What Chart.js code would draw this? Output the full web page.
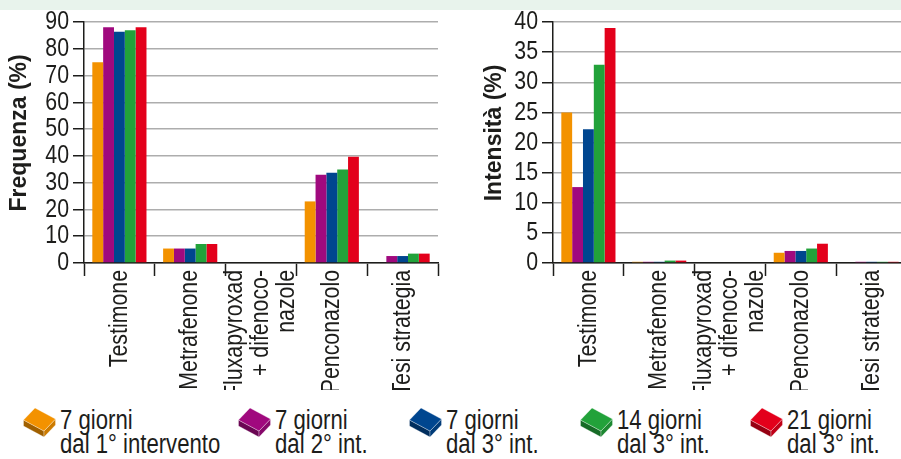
<!DOCTYPE html>
<html>
<head>
<meta charset="utf-8">
<script src="https://cdn.jsdelivr.net/npm/chart.js@4/dist/chart.umd.min.js"></script>
<style>
  html, body { margin: 0; padding: 0; background: #fff; width: 901px; height: 459px; overflow: hidden; position: relative; }
  #band { position: absolute; left: 0; top: 0; width: 901px; height: 10px; background: #e8f3ec; }
  .chartbox { position: absolute; top: 0; height: 390px; overflow: hidden; }
  #boxFreq { left: 0; width: 450px; }
  #boxInt { left: 450px; width: 470px; }
  #legend { position: absolute; top: 404px; left: 0; width: 901px; height: 55px;
    font-family: "Liberation Sans", Arial, sans-serif;
    font-size: 27px; line-height: 24px; color: #1d1d1b; }
  .item { position: absolute; top: 0; height: 55px; }
  .item canvas { position: absolute; left: 0; top: 3px; }
  .item span { position: absolute; top: 4px; left: 37px; white-space: nowrap;
    transform: scaleX(0.82); transform-origin: 0 0; }
</style>
</head>
<body>
<div id="band"></div>
<div class="chartbox" id="boxFreq"><canvas id="freq" width="450" height="390"></canvas></div>
<div class="chartbox" id="boxInt"><canvas id="int" width="470" height="390"></canvas></div>
<div id="legend"></div>
<script>
// Treatments (x categories)
const categories = ['Testimone', 'Metrafenone', ['Fluxapyroxad', '+ difenoco-', 'nazole'], 'Penconazolo', 'Tesi strategia'];

// Sampling times (series)
const seriesNames = [
  ['7 giorni', 'dal 1° intervento'],
  ['7 giorni', 'dal 2° int.'],
  ['7 giorni', 'dal 3° int.'],
  ['14 giorni', 'dal 3° int.'],
  ['21 giorni', 'dal 3° int.']
];

// Frequenza (%) per treatment, one array per sampling time
const freq7d1 = [75.0, 5.4, 0, 23.0, 0];
const freq7d2 = [88.0, 5.4, 0, 33.0, 2.6];
const freq7d3 = [86.4, 5.4, 0, 33.7, 2.6];
const freq14d3 = [86.9, 7.1, 0, 34.9, 3.5];
const freq21d3 = [88.0, 7.1, 0, 39.7, 3.5];

// Intensità (%) per treatment, one array per sampling time
const int7d1 = [25.0, 0.2, 0, 1.7, 0];
const int7d2 = [12.6, 0.2, 0, 2.0, 0.2];
const int7d3 = [22.2, 0.2, 0, 2.0, 0.2];
const int14d3 = [32.9, 0.4, 0, 2.4, 0.2];
const int21d3 = [39.0, 0.4, 0, 3.2, 0.2];

// Y axis ranges
const freqMax = 90, freqStep = 10;
const intMax = 40, intStep = 5;

// Styling
const fills = ['#f39200', '#a0097e', '#00468f', '#22a23a', '#e3001b'];
const ink = '#1d1d1b';
const LABEL_FAMILY = '"Liberation Sans", Arial, sans-serif';
const CONDENSE = 0.82;

// Condensed lettering for the axis labels: regular text squeezed along its baseline
function condenseText(canvas) {
  const ctx = canvas.getContext('2d');
  const orig = ctx.fillText.bind(ctx);
  ctx.fillText = function (t, x, y, mw) {
    if (this.font.indexOf('bold') === -1) {
      const w = this.measureText(t).width * CONDENSE;
      return orig(t, x, y, mw !== undefined ? Math.min(mw, w) : w);
    }
    return mw !== undefined ? orig(t, x, y, mw) : orig(t, x, y);
  };
}

// Centre multi-line rotated category labels on their tick
const centerMultiline = {
  id: 'centerMultiline',
  beforeDraw(chart) {
    const sc = chart.scales.x;
    const items = sc.getLabelItems(chart.chartArea);
    items.forEach(it => {
      if (Array.isArray(it.label) && it.label.length > 1 && !it._centered) {
        const lh = it.font.lineHeight;
        const t = it.options.translation;
        it.options.translation = [t[0] - (it.label.length - 1) / 2 * lh, t[1]];
        it._centered = true;
      }
    });
  }
};

function makeChart(el, seriesValues, yMax, yStep, yTitle, padLeft, padRight, yWidth) {
  condenseText(el);
  return new Chart(el, {
    type: 'bar',
    data: {
      labels: categories,
      datasets: seriesValues.map((v, i) => ({
        label: seriesNames[i].join(' '),
        data: v,
        backgroundColor: fills[i],
        borderWidth: 0,
        categoryPercentage: 0.765,
        barPercentage: 1.0
      }))
    },
    options: {
      responsive: false,
      animation: false,
      devicePixelRatio: 1,
      layout: { padding: { left: padLeft, right: padRight, top: 22, bottom: 0 } },
      plugins: { legend: { display: false }, tooltip: { enabled: false } },
      scales: {
        x: {
          grid: { display: true, drawOnChartArea: false, offset: true, tickLength: 13, tickColor: ink, tickWidth: 1.5 },
          border: { color: ink, width: 1.5 },
          ticks: { minRotation: 90, maxRotation: 90, autoSkip: false, padding: -6, color: ink,
                   font: { family: LABEL_FAMILY, size: 26, lineHeight: 1.0 } },
          afterFit(s) { s.height = 127; }
        },
        y: {
          min: 0, max: yMax,
          ticks: { stepSize: yStep, autoSkip: false, padding: 4, color: ink,
                   font: { family: LABEL_FAMILY, size: 26 } },
          grid: { color: '#adadad', lineWidth: 1.5, tickColor: ink, tickLength: 11, tickWidth: 1.5 },
          border: { color: ink, width: 1.5 },
          title: { display: true, text: yTitle, color: ink, padding: { top: 6, bottom: 0 },
                   font: { family: LABEL_FAMILY, weight: 'bold', size: 23 } },
          afterFit(s) { s.width = yWidth; }
        }
      }
    },
    plugins: [centerMultiline]
  });
}

makeChart(document.getElementById('freq'),
  [freq7d1, freq7d2, freq7d3, freq14d3, freq21d3],
  freqMax, freqStep, '   Frequenza (%)', 0, 12, 84);

makeChart(document.getElementById('int'),
  [int7d1, int7d2, int7d3, int14d3, int21d3],
  intMax, intStep, '   Intensità (%)', 25, 13, 78);

// Legend with small brick icons
function shade(hex, f) {
  const n = parseInt(hex.slice(1), 16);
  const r = Math.round(((n >> 16) & 255) * f), g = Math.round(((n >> 8) & 255) * f), b = Math.round((n & 255) * f);
  return `rgb(${r},${g},${b})`;
}
function drawBrick(cv, color) {
  const c = cv.getContext('2d');
  const poly = (pts, fill) => {
    c.beginPath();
    pts.forEach((p, i) => i ? c.lineTo(p[0], p[1]) : c.moveTo(p[0], p[1]));
    c.closePath();
    c.fillStyle = fill; c.fill();
    c.strokeStyle = 'rgba(255,255,255,0.45)'; c.lineWidth = 0.7; c.stroke();
  };
  poly([[0.5, 13], [21, 24], [21, 30], [0.5, 19]], shade(color, 0.66));
  poly([[21, 24], [32.5, 12], [32.5, 18], [21, 30]], shade(color, 0.84));
  poly([[0.5, 13], [12, 1], [32.5, 12], [21, 24]], color);
}
const legendX = [23, 238, 409, 580, 750];
const legend = document.getElementById('legend');
seriesNames.forEach((nm, i) => {
  const it = document.createElement('div');
  it.className = 'item';
  it.style.left = legendX[i] + 'px';
  const cv = document.createElement('canvas');
  cv.width = 34; cv.height = 32;
  drawBrick(cv, fills[i]);
  const sp = document.createElement('span');
  sp.innerHTML = nm[0] + '<br>' + nm[1];
  it.appendChild(cv); it.appendChild(sp);
  legend.appendChild(it);
});
</script>
</body>
</html>
